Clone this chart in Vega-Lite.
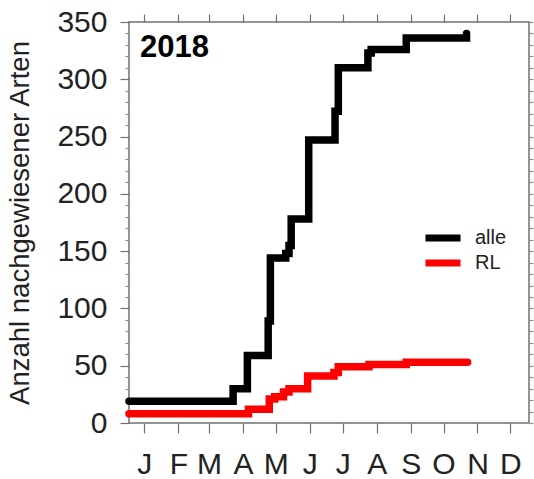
{
  "$schema": "https://vega.github.io/schema/vega-lite/v6.json",
  "width": 400,
  "height": 401,
  "autosize": {"type": "none"},
  "padding": {"left": 129, "top": 22, "right": 5, "bottom": 56},
  "background": "white",
  "config": {
    "view": {"stroke": "#707070", "strokeWidth": 1.5},
    "font": "Liberation Sans",
    "axis": {"domain": false, "grid": false, "tickColor": "#707070", "tickWidth": 1.2, "labelColor": "#222222", "titleColor": "#222222", "labelFont": "Liberation Sans", "titleFont": "Liberation Sans"}
  },
  "title": {"text": "2018", "anchor": "start", "frame": "group", "fontSize": 31, "fontWeight": "bold", "font": "Liberation Sans", "color": "#000000", "offset": 0, "dx": 11, "dy": 81, "baseline": "alphabetic"},
  "data": {
    "values": [
      {"date": "2018-01-01", "value": 19, "series": "alle"},
      {"date": "2018-04-06", "value": 30, "series": "alle"},
      {"date": "2018-04-19", "value": 59, "series": "alle"},
      {"date": "2018-05-08", "value": 89, "series": "alle"},
      {"date": "2018-05-10", "value": 144, "series": "alle"},
      {"date": "2018-05-24", "value": 148, "series": "alle"},
      {"date": "2018-05-27", "value": 155, "series": "alle"},
      {"date": "2018-05-29", "value": 178, "series": "alle"},
      {"date": "2018-06-14", "value": 247, "series": "alle"},
      {"date": "2018-07-08", "value": 272, "series": "alle"},
      {"date": "2018-07-11", "value": 310, "series": "alle"},
      {"date": "2018-08-07", "value": 323, "series": "alle"},
      {"date": "2018-08-10", "value": 326, "series": "alle"},
      {"date": "2018-09-11", "value": 336, "series": "alle"},
      {"date": "2018-11-05", "value": 340, "series": "alle"},
      {"date": "2018-01-01", "value": 8, "series": "RL"},
      {"date": "2018-04-20", "value": 12, "series": "RL"},
      {"date": "2018-05-09", "value": 21, "series": "RL"},
      {"date": "2018-05-14", "value": 23, "series": "RL"},
      {"date": "2018-05-22", "value": 27, "series": "RL"},
      {"date": "2018-05-27", "value": 30, "series": "RL"},
      {"date": "2018-06-13", "value": 41, "series": "RL"},
      {"date": "2018-07-07", "value": 44, "series": "RL"},
      {"date": "2018-07-11", "value": 49, "series": "RL"},
      {"date": "2018-08-08", "value": 51, "series": "RL"},
      {"date": "2018-09-11", "value": 53, "series": "RL"},
      {"date": "2018-11-06", "value": 53, "series": "RL"}
    ]
  },
  "layer": [
    {
      "mark": {"type": "line", "interpolate": "step-after", "strokeWidth": 7.5, "strokeCap": "round", "strokeJoin": "miter"},
      "encoding": {
        "x": {
          "field": "date", "type": "temporal",
          "scale": {"type": "utc", "domain": [{"year": 2018, "month": 1, "date": 1, "utc": true}, {"year": 2019, "month": 1, "date": 1, "utc": true}]},
          "axis": {
            "orient": "bottom", "title": null, "tickSize": 10, "labelFontSize": 30, "labelPadding": 16,
            "values": [
              {"year": 2018, "month": 1, "date": 15, "utc": true},
              {"year": 2018, "month": 2, "date": 15, "utc": true},
              {"year": 2018, "month": 3, "date": 15, "utc": true},
              {"year": 2018, "month": 4, "date": 15, "utc": true},
              {"year": 2018, "month": 5, "date": 15, "utc": true},
              {"year": 2018, "month": 6, "date": 15, "utc": true},
              {"year": 2018, "month": 7, "date": 15, "utc": true},
              {"year": 2018, "month": 8, "date": 15, "utc": true},
              {"year": 2018, "month": 9, "date": 15, "utc": true},
              {"year": 2018, "month": 10, "date": 15, "utc": true},
              {"year": 2018, "month": 11, "date": 15, "utc": true},
              {"year": 2018, "month": 12, "date": 15, "utc": true}
            ],
            "labelExpr": "substring(utcFormat(datum.value, '%b'), 0, 1)"
          }
        },
        "y": {
          "field": "value", "type": "quantitative",
          "scale": {"domain": [0, 350], "nice": false},
          "axis": {"orient": "left", "values": [0, 50, 100, 150, 200, 250, 300, 350], "tickSize": 9, "labelFontSize": 30, "labelPadding": 13, "title": "Anzahl nachgewiesener Arten", "titleFontSize": 27.5, "titleFontWeight": "normal", "titlePadding": 22}
        },
        "color": {
          "field": "series", "type": "nominal",
          "scale": {"domain": ["alle", "RL"], "range": ["#000000", "#ff0000"]},
          "legend": {"title": null, "orient": "none", "legendX": 304, "legendY": 206, "symbolType": "M-2.92,0H2.92", "symbolSize": 144, "symbolStrokeWidth": 7, "labelFontSize": 20, "labelColor": "#222222", "labelOffset": 22, "rowPadding": -3}
        }
      }
    },
    {
      "mark": {"type": "line", "opacity": 0},
      "encoding": {
        "x": {
          "field": "date", "type": "temporal",
          "axis": {
            "orient": "top", "title": null, "tickSize": 8, "labels": false,
            "values": [
              {"year": 2018, "month": 1, "date": 15, "utc": true},
              {"year": 2018, "month": 2, "date": 15, "utc": true},
              {"year": 2018, "month": 3, "date": 15, "utc": true},
              {"year": 2018, "month": 4, "date": 15, "utc": true},
              {"year": 2018, "month": 5, "date": 15, "utc": true},
              {"year": 2018, "month": 6, "date": 15, "utc": true},
              {"year": 2018, "month": 7, "date": 15, "utc": true},
              {"year": 2018, "month": 8, "date": 15, "utc": true},
              {"year": 2018, "month": 9, "date": 15, "utc": true},
              {"year": 2018, "month": 10, "date": 15, "utc": true},
              {"year": 2018, "month": 11, "date": 15, "utc": true},
              {"year": 2018, "month": 12, "date": 15, "utc": true}
            ]
          }
        },
        "y": {
          "field": "value", "type": "quantitative",
          "axis": {"orient": "left", "title": null, "labels": false, "tickSize": 4, "tickColor": "#909090", "values": [10, 20, 30, 40, 60, 70, 80, 90, 110, 120, 130, 140, 160, 170, 180, 190, 210, 220, 230, 240, 260, 270, 280, 290, 310, 320, 330, 340]}
        },
        "detail": {"field": "series"}
      }
    },
    {
      "mark": {"type": "line", "opacity": 0},
      "encoding": {
        "x": {"field": "date", "type": "temporal", "axis": null},
        "y": {
          "field": "value", "type": "quantitative",
          "axis": {"orient": "right", "title": null, "labels": false, "tickSize": 4, "tickColor": "#909090", "values": [0, 10, 20, 30, 40, 50, 60, 70, 80, 90, 100, 110, 120, 130, 140, 150, 160, 170, 180, 190, 200, 210, 220, 230, 240, 250, 260, 270, 280, 290, 300, 310, 320, 330, 340, 350]}
        },
        "detail": {"field": "series"}
      }
    }
  ],
  "resolve": {"axis": {"x": "independent", "y": "independent"}}
}
